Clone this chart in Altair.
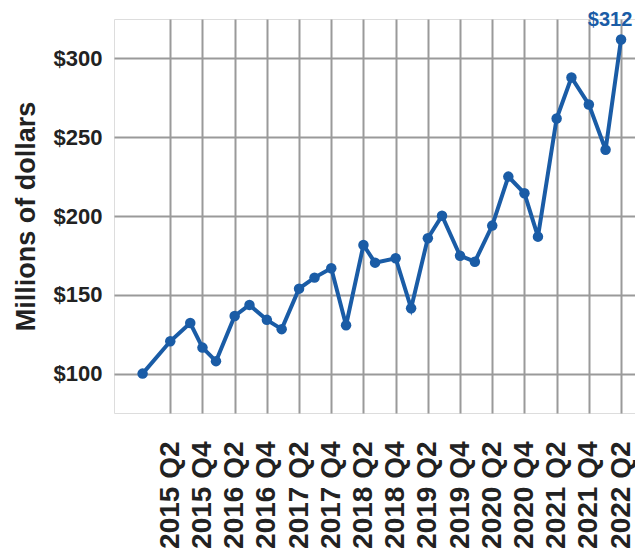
import altair as alt
import pandas as pd

# time in fractional years, value in millions of dollars
times = [2014.82, 2015.25, 2015.56, 2015.75, 2015.96, 2016.25, 2016.48, 2016.75, 2016.98,
         2017.25, 2017.49, 2017.75, 2017.98, 2018.25, 2018.43, 2018.75, 2018.99,
         2019.25, 2019.47, 2019.75, 2019.98, 2020.25, 2020.50, 2020.75, 2020.96,
         2021.25, 2021.48, 2021.75, 2022.01, 2022.25]
values = [100.0, 120.5, 132.1, 116.5, 107.9, 136.6, 143.6, 134.1, 128.2,
          153.9, 160.9, 166.8, 130.7, 181.6, 170.4, 173.2, 141.5,
          185.9, 200.2, 174.8, 171.0, 193.9, 225.0, 214.4, 186.9,
          261.9, 287.9, 270.8, 242.0, 312.0]

tick_values = [2015.25, 2015.75, 2016.25, 2016.75, 2017.25, 2017.75, 2018.25, 2018.75,
               2019.25, 2019.75, 2020.25, 2020.75, 2021.25, 2021.75, 2022.25]
tick_labels = ["2015 Q2", "2015 Q4", "2016 Q2", "2016 Q4", "2017 Q2", "2017 Q4",
               "2018 Q2", "2018 Q4", "2019 Q2", "2019 Q4", "2020 Q2", "2020 Q4",
               "2021 Q2", "2021 Q4", "2022 Q2"]
y_ticks = [100, 150, 200, 250, 300]

df = pd.DataFrame({"t": times, "v": values})
df["label"] = "$" + df["v"].round(0).astype(int).astype(str)

BLUE = "#1a5ca6"
GRID = "#9a9a9a"
FONT = "Liberation Sans"

label_expr = "[" + ",".join("'" + s + "'" for s in tick_labels) + "][indexof([" + \
    ",".join(str(v) for v in tick_values) + "], datum.value)]"

x = alt.X("t:Q", scale=alt.Scale(domain=[2014.376, 2022.467], nice=False, zero=False),
          axis=alt.Axis(values=tick_values, tickCount=40, labelExpr=label_expr, labelAngle=-90,
                        labelAlign="right", labelBaseline="middle",
                        labelFont=FONT, labelFontSize=28, labelFontWeight="bold",
                        labelColor="#222222", labelPadding=28, ticks=False, domain=False,
                        grid=True, gridColor=GRID, gridWidth=2, title=None,
                        labelOverlap=False, labelFlush=False, labelBound=False))
y = alt.Y("v:Q", scale=alt.Scale(domain=[75, 325], nice=False, zero=False),
          axis=alt.Axis(values=y_ticks, tickCount=20, labelExpr="'$' + datum.value",
                        labelFont=FONT, labelFontSize=22, labelFontWeight="bold",
                        labelColor="#222222", labelPadding=12, ticks=False, domain=False,
                        grid=True, gridColor=GRID, gridWidth=2,
                        title="Millions of dollars", titleFont=FONT, titleFontSize=27,
                        titleFontWeight="bold", titleColor="#222222", titlePadding=13))

base = alt.Chart(df)
line = base.mark_line(color=BLUE, strokeWidth=4).encode(x=x, y=y)
pts = base.mark_circle(color=BLUE, size=110, opacity=1).encode(x="t:Q", y="v:Q")
last = base.transform_filter(alt.datum.t == times[-1]).mark_text(
    color=BLUE, font=FONT, fontSize=20, fontWeight="bold", dx=-11, dy=-13,
    baseline="alphabetic", align="center").encode(x="t:Q", y="v:Q", text="label:N")

chart = alt.layer(line, pts, last).properties(
    width=521, height=394, autosize="none",
    padding={"left": 106, "top": 11, "right": 0, "bottom": 145},
).configure_view(stroke=None, clip=False).configure(background="white")

chart.save("out.html", embed_options={"renderer": "svg", "actions": False})
